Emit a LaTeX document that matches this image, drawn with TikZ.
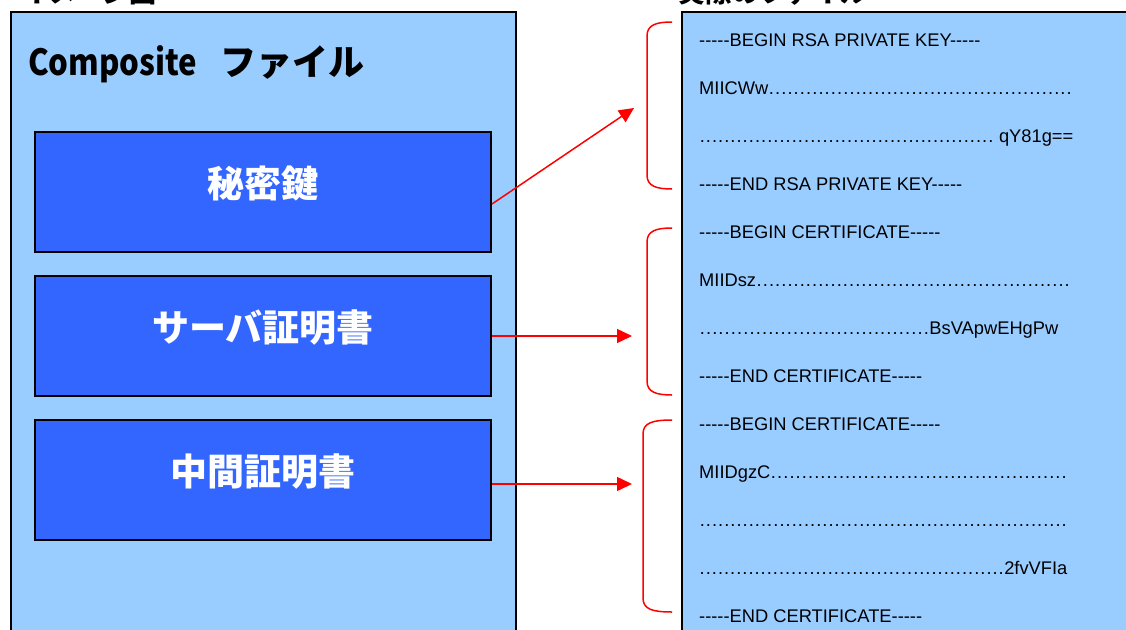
\documentclass[tikz,border=0pt]{standalone}
\usepackage{fontspec}
\setmainfont{Liberation Sans}[Ligatures=TeXOff]
\newfontfamily\jp{Noto Sans CJK JP}
\usetikzlibrary{arrows.meta}
\definecolor{lightblue}{HTML}{99CCFF}
\definecolor{boxblue}{HTML}{3366FF}
\newcommand\dotline[3]{\hbox to #1{#2\xleaders\hbox to 0.333em{\hss.\hss}\hfill#3}}
\begin{document}
\begin{tikzpicture}[x=1pt,y=-1pt,
  panel/.style={draw=black,line width=2pt,fill=lightblue},
  item/.style={draw=black,line width=2pt,fill=boxblue,minimum width=456pt,minimum height=120pt,inner sep=0pt,
    text=white,font=\jp\bfseries\fontsize{37}{40}\selectfont,text height=30pt,text depth=20pt},
  code/.style={anchor=base west,inner sep=0pt,font=\fontsize{18.3}{20}\selectfont},
  head/.style={anchor=base west,inner sep=0pt,font=\jp\bfseries\fontsize{27}{30}\selectfont},
  title/.style={anchor=base west,inner sep=0pt,font=\jp\bfseries\fontsize{36}{40}\selectfont},
  link/.style={draw=red,line width=1.5pt,-{Triangle[length=15pt,width=14pt,fill=red]}},
  brace/.style={draw=red,line width=1.5pt},
]
\useasboundingbox (0,0) rectangle (1126,629);
\fill[white] (0,0) rectangle (1126,629);
% partially visible headings
\node[head] (h1) at (22,2) {イメージ図};
\node[head] (h2) at (678,2) {実際のファイル};
% panels
\draw[panel] (11,12) rectangle (516,660);
\draw[panel] (682,12) rectangle (1150,660);
\node[title] (ttl) at (28,75) {\resizebox{169pt}{\height}{Composite}\hspace{23pt}ファイル};
% inner boxes
\node[item] (b1) at (263,192) {秘密鍵};
\node[item] (b2) at (263,336) {サーバ証明書};
\node[item] (b3) at (263,480) {中間証明書};
% file text
\node[code] (l1) at (699,46.5) {-----BEGIN RSA PRIVATE KEY-----};
\node[code] (l2) at (699,94.5) {\dotline{373pt}{MIICWw}{}};
\node[code] (l3) at (699,142.5) {\dotline{374pt}{}{ qY81g==}};
\node[code] (l4) at (699,190.5) {-----END RSA PRIVATE KEY-----};
\node[code] (l5) at (699,238.5) {-----BEGIN CERTIFICATE-----};
\node[code] (l6) at (699,286.5) {\dotline{371pt}{MIIDsz}{}};
\node[code] (l7) at (699,334.5) {\dotline{359pt}{}{BsVApwEHgPw}};
\node[code] (l8) at (699,382.5) {-----END CERTIFICATE-----};
\node[code] (l9) at (699,430.5) {-----BEGIN CERTIFICATE-----};
\node[code] (l10) at (699,478.5) {\dotline{368pt}{MIIDgzC}{}};
\node[code] (l11) at (699,526.5) {\dotline{368pt}{}{}};
\node[code] (l12) at (699,574.5) {\dotline{368pt}{}{2fvVFIa}};
\node[code] (l13) at (699,622.5) {-----END CERTIFICATE-----};
% braces
\draw[brace] (672,22) .. controls (656,22) and (647,25) .. (647,36) -- (647,175) .. controls (647,186) and (656,189) .. (672,189);
\draw[brace] (672,228) .. controls (656,228) and (647,231) .. (647,242) -- (647,381) .. controls (647,392) and (656,395) .. (672,395);
\draw[brace] (672,420) .. controls (652,420) and (643,423) .. (643,434) -- (643,598) .. controls (643,609) and (652,612) .. (672,612);
% arrows
\coordinate (t1) at (634,108);
\coordinate (t2) at (632,336);
\coordinate (t3) at (632,484);
\draw[link] ([yshift=-12pt]b1.east) -- (t1);
\draw[link] (b2.east) -- (t2);
\draw[link] ([yshift=-4pt]b3.east) -- (t3);
\end{tikzpicture}
\end{document}
